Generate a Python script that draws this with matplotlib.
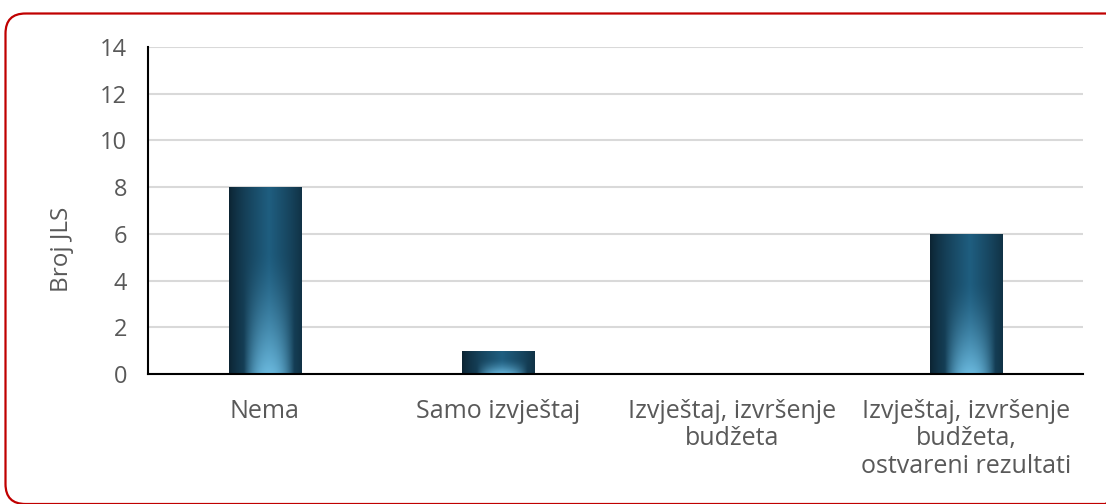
import numpy as np
import matplotlib
matplotlib.use("Agg")
import matplotlib.pyplot as plt
from matplotlib.patches import FancyBboxPatch

categories = ["Nema", "Samo izvještaj", "Izvještaj, izvršenje\nbudžeta",
              "Izvještaj, izvršenje\nbudžeta,\nostvareni rezultati"]
values = [8, 1, 0, 6]
yticks = [0, 2, 4, 6, 8, 10, 12, 14]

plt.rcParams['font.family'] = ['Open Sans', 'DejaVu Sans']

W, H = 1106, 504
fig = plt.figure(figsize=(W/100, H/100), dpi=100)
fig.patch.set_facecolor('white')

# background axes in pixel coordinates for the rounded red frame
bg = fig.add_axes([0, 0, 1, 1])
bg.set_xlim(0, W)
bg.set_ylim(H, 0)
bg.axis('off')
bg.add_patch(FancyBboxPatch((5.5, 13.5), 1125 - 5.5, 504 - 13.5,
                            boxstyle="round,pad=0,rounding_size=20",
                            facecolor='none', edgecolor='#c00000', linewidth=1.6))

ax = fig.add_axes([148/W, 1-374/H, (1083-148)/W, (374-47)/H])
x = np.arange(len(categories))
bars = ax.bar(x, values, width=0.31, color='none', edgecolor='none', zorder=3)

# gradient image for bars
nx, ny = 64, 128
u = np.linspace(0, 1, nx)
v = np.linspace(0, 1, ny)  # 0 top -> 1 bottom
U, V = np.meshgrid(u, v)
edge = np.clip(1 - np.abs(U - 0.55) / 0.55, 0, 1) ** 0.8
dark = np.array([0x0c, 0x24, 0x33]) / 255
mid = np.array([0x1f, 0x5e, 0x80]) / 255
light = np.array([0x6a, 0xb8, 0xdd]) / 255
base = dark[None, None, :] + (mid - dark)[None, None, :] * edge[..., None]
glow = (np.clip(1 - ((U - 0.55) / 0.35) ** 2, 0, 1) * np.clip((V - 0.35) / 0.65, 0, 1) ** 1.5)
img = base + (light - base) * glow[..., None]
img = np.clip(img, 0, 1)

for b in bars:
    h = b.get_height()
    if h <= 0:
        continue
    x0 = b.get_x()
    w = b.get_width()
    im = ax.imshow(img, extent=[x0, x0 + w, 0, h], aspect='auto', zorder=3,
                   interpolation='bilinear')
    im.set_clip_path(b)

ax.set_xlim(-0.5, len(categories) - 0.5)
ax.set_ylim(0, 14)
ax.set_yticks(yticks)
ax.set_xticks(x)
ax.set_xticklabels(categories, fontsize=18, color='#595959', linespacing=1.13)
ax.tick_params(axis='y', labelsize=17, labelcolor='#595959', length=0, pad=15)
ax.tick_params(axis='x', length=0, pad=18)
ax.yaxis.grid(True, color='#d9d9d9', linewidth=1.5, zorder=0)
ax.set_axisbelow(True)
for s in ['top', 'right']:
    ax.spines[s].set_visible(False)
ax.spines['left'].set_color('black')
ax.spines['bottom'].set_color('black')
ax.spines['left'].set_linewidth(1.5)
ax.spines['bottom'].set_linewidth(1.5)
ax.spines['bottom'].set_zorder(4)
ax.set_ylabel("Broj JLS", fontsize=17.5, color='#595959')
ax.yaxis.set_label_coords(-0.092, 0.38)
ax.yaxis.label.set_verticalalignment('center')

fig.savefig("out.png", dpi=100)
